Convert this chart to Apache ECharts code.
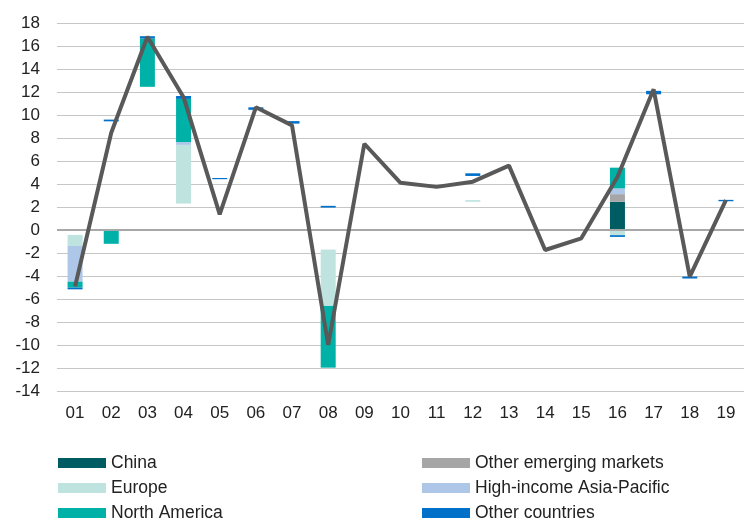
<!DOCTYPE html>
<html>
<head>
<meta charset="utf-8">
<script src="https://cdn.jsdelivr.net/npm/echarts@6/dist/echarts.min.js"></script>
<style>
html,body{margin:0;padding:0;background:#fff;}
#chart{width:744px;height:518px;}
</style>
</head>
<body>
<div id="chart"></div>
<script>
const categories = ['01','02','03','04','05','06','07','08','09','10','11','12','13','14','15','16','17','18','19'];
const yTicks = {min: -14, max: 18, interval: 2};

// invisible offsets (segments float in the original)
const offsetPos = [0, 9.45, 12.45, 2.3, 4.42, 10.45, 9.25, 1.95, 0, 0, 0, 2.45, 0, 0, 0, 0, 11.8, 0, 2.5];
const offsetNeg = [-0.43, 0, 0, 0, 0, 0, 0, -1.7, 0, 0, 0, 0, 0, 0, 0, 0, 0, -4.05, 0];

const china        = [0, 0, 0, 0, 0, 0, 0, 0, 0, 0, 0, 0, 0, 0, 0, 2.45, 0, 0, 0];
const otherEM      = [0, 0, 0, 0, 0, 0, 0, 0, 0, 0, 0, 0, 0, 0, 0, 0.67, 0, 0, 0];
const europe       = [-0.96, 0, 0, 5.1, 0, 0, 0, -4.9, 0, 0, 0, 0.15, 0, 0, 0, -0.45, 0, 0, 0];
const hiAsiaPac    = [-3.1, 0, 0, 0.25, 0, 0, 0, 0, 0, 0, 0, 0, 0, 0, 0, 0.5, 0, 0, 0];
const northAmerica = [-0.52, -1.2, 4.2, 3.75, 0, 0, 0, -5.37, 0, 0, 0, 0, 0, 0, 0, 1.8, 0, 0, 0];
const gapPos       = [0, 0, 0, 0, 0, 0, 0, 0, 0, 0, 0, 2.1, 0, 0, 0, 0, 0, 0, 0];
const otherCountries = [-0.15, 0.15, 0.2, 0.25, 0.1, 0.22, 0.22, 0.15, 0, 0, 0, 0.23, 0, 0, 0, -0.15, 0.3, -0.17, 0.12];
const total = [-4.9, 8.45, 16.8, 11.55, 1.36, 10.67, 9.1, -10.0, 7.5, 4.1, 3.75, 4.2, 5.6, -1.74, -0.72, 4.6, 12.23, -4.06, 2.6];

const FONT = 'Liberation Sans';
const chart = echarts.init(document.getElementById('chart'), null, {renderer: 'canvas'});

function barSeries(name, data, color) {
  return {
    name: name, type: 'bar', stack: 'total', data: data, barWidth: 15,
    itemStyle: {color: color}, silent: true, animation: false
  };
}

const legendCommon = {
  orient: 'vertical', top: 454, padding: 0, height: 80,
  itemWidth: 48, itemHeight: 10, itemGap: 7, icon: 'rect',
  textStyle: {fontFamily: FONT, fontSize: 17.5, color: '#222', lineHeight: 17}
};

const option = {
  animation: false,
  grid: {left: 57, top: 23, width: 695, bottom: 127, containLabel: false},
  xAxis: {
    type: 'category', data: categories,
    axisLine: {show: false}, axisTick: {show: false},
    axisLabel: {fontFamily: FONT, fontSize: 17, color: '#222', margin: 14}
  },
  yAxis: {
    type: 'value', min: yTicks.min, max: yTicks.max, interval: yTicks.interval,
    axisLine: {show: false}, axisTick: {show: false},
    axisLabel: {fontFamily: FONT, fontSize: 17, color: '#222', margin: 17},
    splitLine: {lineStyle: {color: '#c6c6c6', width: 1.2}}
  },
  legend: [
    Object.assign({}, legendCommon, {data: ['China', 'Europe', 'North America'], left: 58}),
    Object.assign({}, legendCommon, {data: ['Other emerging markets', 'High-income Asia-Pacific', 'Other countries'], left: 422})
  ],
  series: [
    Object.assign(barSeries('offsetPos', offsetPos, 'rgba(0,0,0,0)'), {
      markLine: {
        silent: true, symbol: 'none', label: {show: false},
        lineStyle: {color: '#a8a8a8', width: 2, type: 'solid'},
        data: [{yAxis: 0}]
      }
    }),
    barSeries('offsetNeg', offsetNeg, 'rgba(0,0,0,0)'),
    barSeries('China', china, '#005c63'),
    barSeries('Other emerging markets', otherEM, '#a6a6a6'),
    barSeries('Europe', europe, '#bfe4e0'),
    barSeries('High-income Asia-Pacific', hiAsiaPac, '#aec7e8'),
    barSeries('North America', northAmerica, '#00b1a8'),
    barSeries('gap', gapPos, 'rgba(0,0,0,0)'),
    barSeries('Other countries', otherCountries, '#0070c9'),
    {
      name: 'Total', type: 'line', data: total, symbol: 'none', z: 5,
      lineStyle: {color: '#595959', width: 4}, silent: true
    }
  ]
};
chart.setOption(option);
</script>
</body>
</html>
